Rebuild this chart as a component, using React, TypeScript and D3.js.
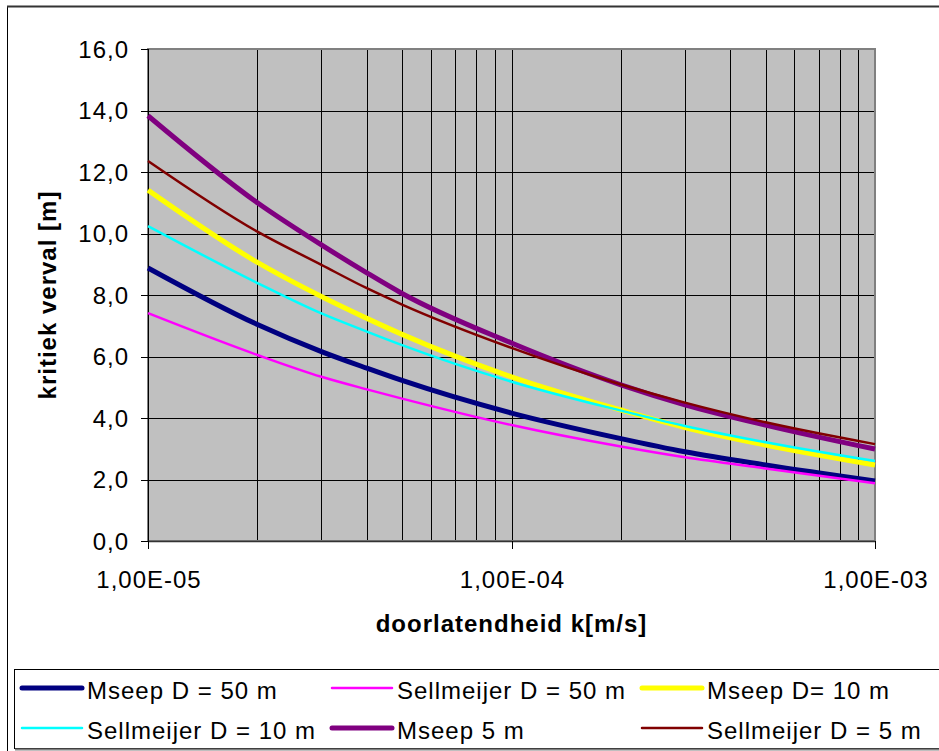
import React, { useEffect, useRef } from 'react';
import * as d3 from 'd3';

// doorlatendheid k [m/s]
const kValues = [1e-5, 2e-5, 3e-5, 4e-5, 5e-5, 1e-4, 2e-4, 3e-4, 5e-4, 1e-3];

// kritiek verval [m]
const mseep50 = [8.88, 7.04, 6.16, 5.62, 5.22, 4.16, 3.33, 2.9, 2.47, 1.95];
const sellmeijer50 = [7.41, 6.05, 5.34, 4.93, 4.63, 3.77, 3.07, 2.72, 2.36, 1.88];
const mseep10 = [11.41, 9.06, 7.95, 7.24, 6.72, 5.34, 4.26, 3.69, 3.12, 2.47];
const sellmeijer10 = [10.24, 8.39, 7.4, 6.81, 6.37, 5.18, 4.24, 3.74, 3.21, 2.6];
const mseep5 = [13.83, 11.0, 9.63, 8.72, 8.05, 6.44, 5.08, 4.43, 3.77, 2.99];
const sellmeijer5 = [12.36, 10.06, 8.98, 8.22, 7.69, 6.28, 5.09, 4.5, 3.86, 3.15];

const seriesNames = [
  'Mseep D = 50 m',
  'Sellmeijer D = 50 m',
  'Mseep D= 10 m',
  'Sellmeijer D = 10 m',
  'Mseep 5 m',
  'Sellmeijer D = 5 m',
];
const seriesValues = [mseep50, sellmeijer50, mseep10, sellmeijer10, mseep5, sellmeijer5];
const seriesColors = ['#000080', '#FF00FF', '#FFFF00', '#00FFFF', '#800080', '#800000'];
const seriesWidths = [5, 2.5, 5, 2.5, 5, 2.5];

const yTicks = [0, 2, 4, 6, 8, 10, 12, 14, 16];
const xMajorTicks = [1e-5, 1e-4, 1e-3];
const xTickLabels = ['1,00E-05', '1,00E-04', '1,00E-03'];

const FONT = 'Liberation Sans, Arial, sans-serif';

const App = () => {
  const svgRef = useRef<SVGSVGElement>(null);

  useEffect(() => {
    const svg = d3.select(svgRef.current);
    svg.selectAll('*').remove();

    const width = 939;
    const height = 751;
    const left = 148;
    const right = 875;
    const top = 49;
    const bottom = 541;

    svg.attr('width', width).attr('height', height);

    svg.append('rect').attr('width', width).attr('height', height).attr('fill', 'white');

    // outer chart border
    svg.append('line').attr('x1', 7.5).attr('x2', 7.5).attr('y1', 6).attr('y2', height)
      .attr('stroke', '#000').attr('stroke-width', 1);
    svg.append('line').attr('x1', 7).attr('x2', width).attr('y1', 6.5).attr('y2', 6.5)
      .attr('stroke', '#333').attr('stroke-width', 2);

    const x = d3.scaleLog().domain([1e-5, 1e-3]).range([left, right]);
    const y = d3.scaleLinear().domain([0, 16]).range([bottom, top]);
    const snap = (v: number) => Math.round(v) + 0.5;

    // plot area
    svg.append('rect')
      .attr('x', left).attr('y', top)
      .attr('width', right - left).attr('height', bottom - top)
      .attr('fill', '#C0C0C0');

    // vertical grid (minor + major)
    const gridK: number[] = [];
    [1e-5, 1e-4].forEach(dec => {
      for (let m = 1; m <= 9; m++) gridK.push(dec * m);
    });
    gridK.push(1e-3);

    svg.append('g').selectAll('line')
      .data(gridK)
      .enter().append('line')
      .attr('x1', d => snap(x(d))).attr('x2', d => snap(x(d)))
      .attr('y1', top).attr('y2', bottom)
      .attr('stroke', '#000').attr('stroke-width', 1);

    svg.append('g').selectAll('line')
      .data(yTicks)
      .enter().append('line')
      .attr('x1', left).attr('x2', right)
      .attr('y1', d => snap(y(d))).attr('y2', d => snap(y(d)))
      .attr('stroke', '#000').attr('stroke-width', 1);

    // plot area border
    svg.append('rect')
      .attr('x', left).attr('y', top)
      .attr('width', right - left).attr('height', bottom - top)
      .attr('fill', 'none').attr('stroke', '#808080').attr('stroke-width', 2);

    // axes
    svg.append('line').attr('x1', snap(left)).attr('x2', snap(left)).attr('y1', top).attr('y2', bottom + 1)
      .attr('stroke', '#000');
    svg.append('line').attr('x1', left).attr('x2', right).attr('y1', snap(bottom)).attr('y2', snap(bottom))
      .attr('stroke', '#333').attr('stroke-width', 1.5);

    // y ticks + labels
    const yAxis = svg.append('g');
    yAxis.selectAll('line')
      .data(yTicks)
      .enter().append('line')
      .attr('x1', left - 7).attr('x2', left)
      .attr('y1', d => snap(y(d))).attr('y2', d => snap(y(d)))
      .attr('stroke', '#000');
    yAxis.selectAll('text')
      .data(yTicks)
      .enter().append('text')
      .attr('x', 129)
      .attr('y', d => y(d))
      .attr('dy', '0.36em')
      .style('text-anchor', 'end')
      .style('font-family', FONT)
      .style('font-size', '24px')
      .style('letter-spacing', '1px')
      .text(d => d.toFixed(1).replace('.', ','));

    // x ticks + labels
    const xAxis = svg.append('g');
    xAxis.selectAll('line')
      .data(xMajorTicks)
      .enter().append('line')
      .attr('x1', d => snap(x(d))).attr('x2', d => snap(x(d)))
      .attr('y1', bottom).attr('y2', bottom + 8)
      .attr('stroke', '#000');
    xAxis.selectAll('text')
      .data(xMajorTicks)
      .enter().append('text')
      .attr('x', d => x(d) + 1)
      .attr('y', 588)
      .style('text-anchor', 'middle')
      .style('font-family', FONT)
      .style('font-size', '24px')
      .style('letter-spacing', '1px')
      .text((d, i) => xTickLabels[i]);

    // axis titles
    svg.append('text')
      .attr('x', (left + right) / 2)
      .attr('y', 632)
      .style('text-anchor', 'middle')
      .style('font-family', FONT)
      .style('font-size', '24px')
      .style('font-weight', 'bold')
      .style('letter-spacing', '1px')
      .text('doorlatendheid k[m/s]');

    svg.append('text')
      .attr('transform', `translate(56, ${(top + bottom) / 2}) rotate(-90)`)
      .style('text-anchor', 'middle')
      .style('font-family', FONT)
      .style('font-size', '24px')
      .style('font-weight', 'bold')
      .style('letter-spacing', '1px')
      .text('kritiek verval [m]');

    // series
    const line = d3.line<number>()
      .x((d, i) => x(kValues[i]))
      .y(d => y(d))
      .curve(d3.curveMonotoneX);

    svg.append('g').selectAll('path')
      .data(seriesValues)
      .enter().append('path')
      .attr('d', d => line(d))
      .attr('fill', 'none')
      .attr('stroke', (d, i) => seriesColors[i])
      .attr('stroke-width', (d, i) => seriesWidths[i])
      .attr('stroke-linejoin', 'round');

    // legend
    const legendTop = 669;
    svg.append('rect')
      .attr('x', 14.5).attr('y', legendTop + 0.5)
      .attr('width', width).attr('height', 79)
      .attr('fill', 'white').attr('stroke', '#000');
    svg.append('line').attr('x1', 15).attr('x2', width).attr('y1', 749.5).attr('y2', 749.5)
      .attr('stroke', '#808080').attr('stroke-width', 2);

    const colX = [22, 332, 642];
    const rowY = [688, 728];

    const legendItems = svg.append('g').selectAll('g')
      .data(seriesNames)
      .enter().append('g')
      .attr('transform', (d, i) => `translate(${colX[i % 3]}, ${rowY[Math.floor(i / 3)]})`);

    legendItems.append('line')
      .attr('x1', 0).attr('x2', 60)
      .attr('stroke', (d, i) => seriesColors[i])
      .attr('stroke-width', (d, i) => seriesWidths[i])
      .attr('stroke-linecap', 'round');

    legendItems.append('text')
      .attr('x', 65)
      .attr('y', 11)
      .style('font-family', FONT)
      .style('font-size', '24px')
      .style('letter-spacing', '1px')
      .text(d => d);
  }, []);

  return (
    <svg ref={svgRef} style={{ position: 'absolute', left: 0, top: 0, display: 'block' }}></svg>
  );
};

export default App;
